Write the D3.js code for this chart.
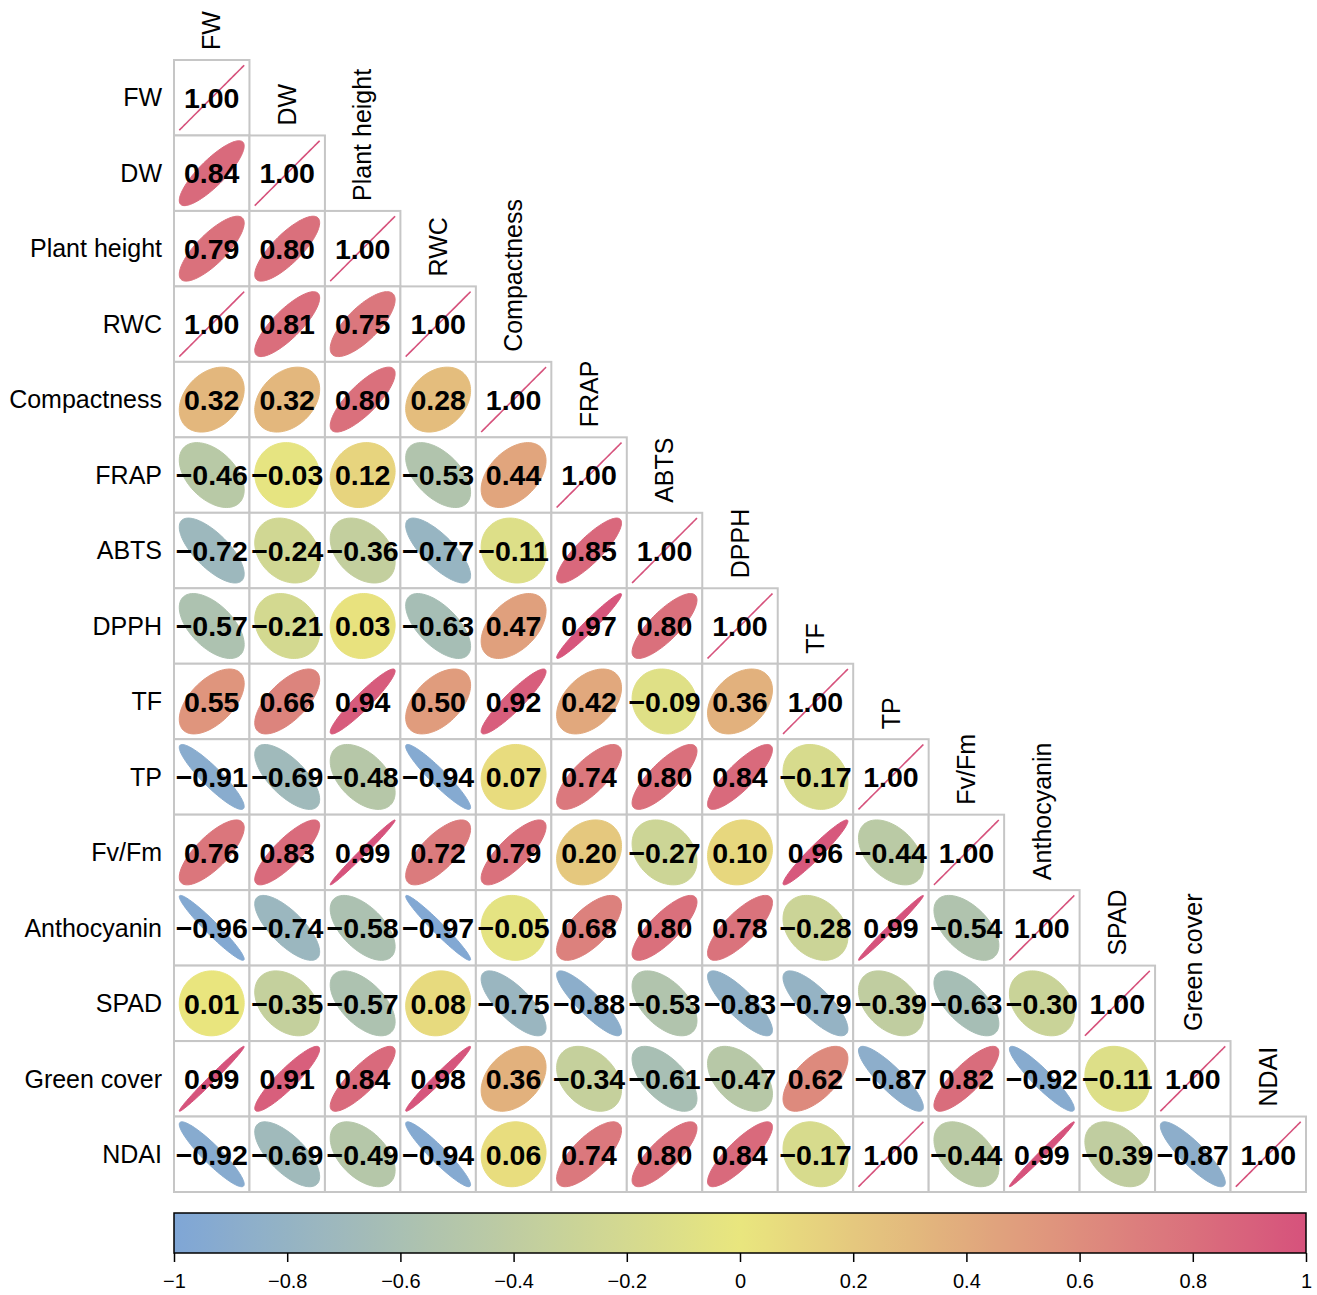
<!DOCTYPE html>
<html>
<head>
<meta charset="utf-8">
<script src="https://cdn.jsdelivr.net/npm/d3@7"></script>
<style>
  html, body { margin: 0; padding: 0; background: #ffffff; }
  svg { display: block; font-family: "Liberation Sans", Arial, Helvetica, sans-serif; }
</style>
</head>
<body>
<svg id="chart" width="1317" height="1295"></svg>
<script>
// Variables, in matrix order
const variables = ["FW", "DW", "Plant height", "RWC", "Compactness", "FRAP", "ABTS",
  "DPPH", "TF", "TP", "Fv/Fm", "Anthocyanin", "SPAD", "Green cover", "NDAI"];

// Lower-triangle correlations, one row per variable (columns left of the diagonal)
const rowFW          = [];
const rowDW          = [0.84];
const rowPlantHeight = [0.79, 0.80];
const rowRWC         = [1.00, 0.81, 0.75];
const rowCompactness = [0.32, 0.32, 0.80, 0.28];
const rowFRAP        = [-0.46, -0.03, 0.12, -0.53, 0.44];
const rowABTS        = [-0.72, -0.24, -0.36, -0.77, -0.11, 0.85];
const rowDPPH        = [-0.57, -0.21, 0.03, -0.63, 0.47, 0.97, 0.80];
const rowTF          = [0.55, 0.66, 0.94, 0.50, 0.92, 0.42, -0.09, 0.36];
const rowTP          = [-0.91, -0.69, -0.48, -0.94, 0.07, 0.74, 0.80, 0.84, -0.17];
const rowFvFm        = [0.76, 0.83, 0.99, 0.72, 0.79, 0.20, -0.27, 0.10, 0.96, -0.44];
const rowAnthocyanin = [-0.96, -0.74, -0.58, -0.97, -0.05, 0.68, 0.80, 0.78, -0.28, 0.99, -0.54];
const rowSPAD        = [0.01, -0.35, -0.57, 0.08, -0.75, -0.88, -0.53, -0.83, -0.79, -0.39, -0.63, -0.30];
const rowGreenCover  = [0.99, 0.91, 0.84, 0.98, 0.36, -0.34, -0.61, -0.47, 0.62, -0.87, 0.82, -0.92, -0.11];
const rowNDAI        = [-0.92, -0.69, -0.49, -0.94, 0.06, 0.74, 0.80, 0.84, -0.17, 1.00, -0.44, 0.99, -0.39, -0.87];

// Colour bar ticks
const colorbarTicks = [-1, -0.8, -0.6, -0.4, -0.2, 0, 0.2, 0.4, 0.6, 0.8, 1];

const rows = [rowFW, rowDW, rowPlantHeight, rowRWC, rowCompactness, rowFRAP, rowABTS,
  rowDPPH, rowTF, rowTP, rowFvFm, rowAnthocyanin, rowSPAD, rowGreenCover, rowNDAI];

// Flatten into cells (diagonal = 1)
const cells = [];
rows.forEach((vals, i) => {
  vals.forEach((r, j) => cells.push({ row: i, col: j, r }));
  cells.push({ row: i, col: i, r: 1 });
});

const svg = d3.select("#chart");
const gridLeft = 174, gridTop = 60, gridSize = 1132;

const x = d3.scaleBand().domain(d3.range(variables.length)).range([gridLeft, gridLeft + gridSize]);
const y = d3.scaleBand().domain(d3.range(variables.length)).range([gridTop, gridTop + gridSize]);
const cw = x.bandwidth();

const color = d3.scaleLinear()
  .domain([-1, 0, 1])
  .range(["#7fa6d6", "#e9e67e", "#d6527c"])
  .interpolate(d3.interpolateRgb);

// Ellipse geometry in unit cell coordinates -> pixels
const unit = d3.scaleLinear().domain([-0.5, 0.5]).range([-cw / 2, cw / 2]);
const ellScale = 0.86;
function ellipsePoints(r) {
  const a = Math.acos(Math.max(-1, Math.min(1, r)));
  return d3.range(99).map(k => {
    const t = 2 * Math.PI * k / 98;
    return [unit(ellScale * Math.cos(t + a / 2) / 2), -unit(ellScale * Math.cos(t - a / 2) / 2)];
  });
}
const lineGen = d3.line().curve(d3.curveLinearClosed);

// Cell frames
svg.append("g").selectAll("rect").data(cells).join("rect")
  .attr("x", d => x(d.col)).attr("y", d => y(d.row))
  .attr("width", cw).attr("height", cw)
  .attr("fill", "#ffffff").attr("stroke", "#c6c6c6").attr("stroke-width", 2);

// Ellipses
svg.append("g").selectAll("path").data(cells).join("path")
  .attr("transform", d => `translate(${x(d.col) + cw / 2},${y(d.row) + cw / 2})`)
  .attr("d", d => lineGen(ellipsePoints(d.r)))
  .attr("fill", d => color(d.r))
  .attr("stroke", d => color(d.r))
  .attr("stroke-width", d => d.r >= 0.995 ? 1.6 : 1);

// Coefficient labels
const fmt = v => (v < 0 ? "\u2212" : "") + Math.abs(v).toFixed(2);
svg.append("g").selectAll("text").data(cells).join("text")
  .attr("x", d => x(d.col) + cw / 2)
  .attr("y", d => y(d.row) + cw / 2)
  .attr("dy", "0.36em")
  .attr("text-anchor", "middle")
  .attr("font-size", 28.5).attr("font-weight", "bold").attr("fill", "#000")
  .text(d => fmt(d.r));

// Row labels
svg.append("g").selectAll("text").data(variables).join("text")
  .attr("x", gridLeft - 12)
  .attr("y", (d, i) => y(i) + cw / 2)
  .attr("dy", "0.35em")
  .attr("text-anchor", "end")
  .attr("font-size", 25).attr("fill", "#000")
  .text(d => d);

// Column labels, standing above each diagonal cell
svg.append("g").selectAll("text").data(variables).join("text")
  .attr("transform", (d, i) => `translate(${x(i) + cw / 2},${y(i) - 10}) rotate(-90)`)
  .attr("dy", "0.35em")
  .attr("text-anchor", "start")
  .attr("font-size", 25).attr("fill", "#000")
  .text(d => d);

// Colour bar
const barTop = 1213, barH = 40;
const cb = d3.scaleLinear().domain([-1, 1]).range([gridLeft, gridLeft + gridSize]);
const grad = svg.append("defs").append("linearGradient").attr("id", "cbar")
  .attr("x1", "0%").attr("x2", "100%").attr("y1", "0%").attr("y2", "0%");
grad.selectAll("stop").data(d3.range(-1, 1.0001, 0.05)).join("stop")
  .attr("offset", d => ((d + 1) / 2 * 100) + "%")
  .attr("stop-color", d => color(d));
svg.append("rect")
  .attr("x", cb(-1)).attr("y", barTop)
  .attr("width", cb(1) - cb(-1)).attr("height", barH)
  .attr("fill", "url(#cbar)").attr("stroke", "#000").attr("stroke-width", 1.5);

const axis = d3.axisBottom(cb).tickValues(colorbarTicks).tickSize(9).tickPadding(12)
  .tickFormat(v => (v < 0 ? "\u2212" : "") + d3.format("~g")(Math.abs(v)));
const ax = svg.append("g").attr("transform", `translate(0,${barTop + barH})`).call(axis);
ax.select(".domain").remove();
ax.selectAll(".tick line").attr("stroke", "#000").attr("stroke-width", 1.5);
ax.selectAll(".tick text").attr("font-size", 20).attr("fill", "#000")
  .attr("font-family", "'Liberation Sans', Arial, Helvetica, sans-serif");
</script>
</body>
</html>
